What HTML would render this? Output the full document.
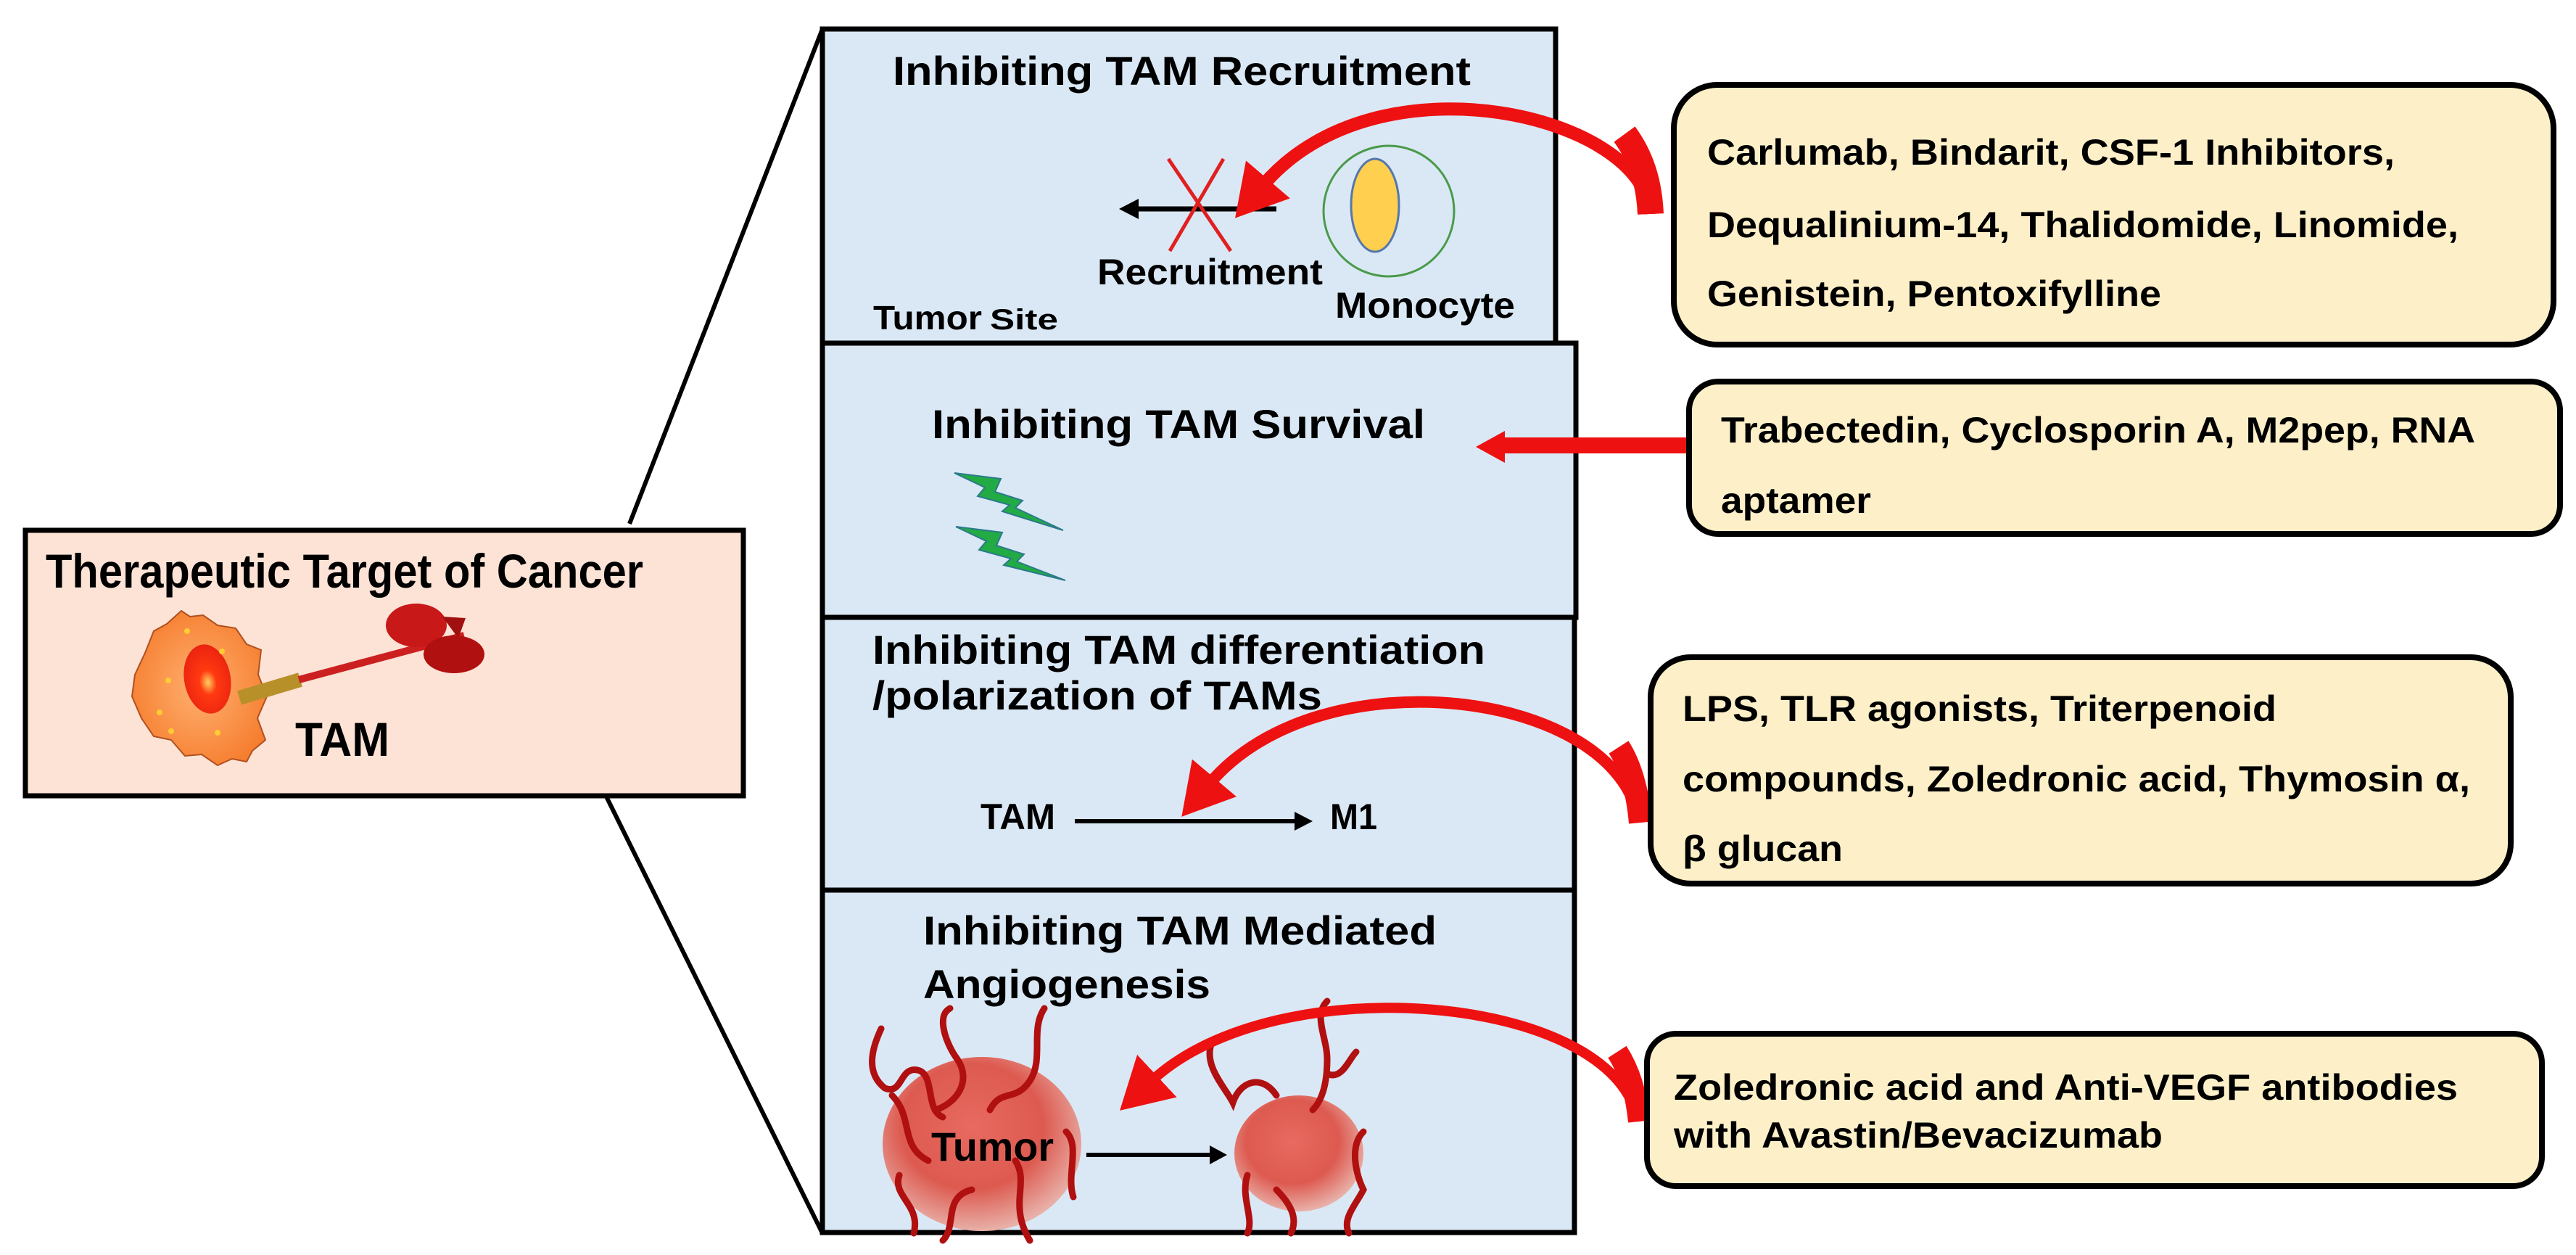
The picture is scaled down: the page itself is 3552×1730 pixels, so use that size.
<!DOCTYPE html>
<html><head><meta charset="utf-8"><style>
html,body{margin:0;padding:0;background:#fff;width:3552px;height:1730px;overflow:hidden}
svg{display:block}
.t{font-family:"Liberation Sans Narrow","Liberation Sans",sans-serif;font-weight:bold;fill:#000}
.r{font-family:"Liberation Sans Narrow","Liberation Sans",sans-serif;font-weight:bold;fill:#000;font-size:50px}
</style></head><body>
<svg width="3552" height="1730" viewBox="0 0 3552 1730" xmlns="http://www.w3.org/2000/svg">
<defs>
<radialGradient id="cell" cx="0.5" cy="0.5" r="0.6"><stop offset="0" stop-color="#ffb070"/><stop offset="1" stop-color="#f57a2a"/></radialGradient>
<radialGradient id="nuc" cx="0.5" cy="0.55" r="0.6"><stop offset="0" stop-color="#ffd060"/><stop offset="0.3" stop-color="#ff3a10"/><stop offset="1" stop-color="#e82010"/></radialGradient>
<radialGradient id="tum" cx="0.45" cy="0.4" r="0.6"><stop offset="0" stop-color="#e86a60"/><stop offset="0.6" stop-color="#dd5a50"/><stop offset="1" stop-color="#e8b0a8"/></radialGradient>
<marker id="ah" markerUnits="userSpaceOnUse" markerWidth="90" markerHeight="90" refX="10" refY="40" orient="auto">
<path d="M0,0 L70,40 L0,80 Z" fill="#ee1111"/></marker>
</defs>

<line x1="868" y1="722" x2="1134" y2="40" stroke="#000" stroke-width="6"/>
<line x1="836" y1="1098" x2="1134" y2="1700" stroke="#000" stroke-width="6"/>

<rect x="35" y="731" width="990" height="366" fill="#fde3d6" stroke="#000" stroke-width="7"/>
<text class="t" x="63" y="810" font-size="66" textLength="824" lengthAdjust="spacingAndGlyphs">Therapeutic Target of Cancer</text>
<path d="M250,842 L262,850 L280,848 L300,862 L325,866 L340,888 L360,896 L356,930 L368,960 L355,990 L366,1020 L348,1035 L340,1050 L320,1046 L300,1055 L278,1040 L255,1042 L236,1020 L212,1015 L195,990 L182,960 L186,930 L200,900 L212,870 L230,860 Z" fill="url(#cell)" stroke="#b05020" stroke-width="2"/>
<ellipse cx="286" cy="936" rx="32" ry="48" transform="rotate(-10 286 936)" fill="url(#nuc)"/>
<circle cx="258" cy="870" r="4" fill="#ffcc33"/><circle cx="306" cy="898" r="4" fill="#ffcc33"/><circle cx="232" cy="938" r="4" fill="#ffcc33"/><circle cx="220" cy="982" r="4" fill="#ffcc33"/><circle cx="236" cy="1008" r="4" fill="#ffcc33"/><circle cx="300" cy="1010" r="4" fill="#ffcc33"/>
<line x1="330" y1="962" x2="414" y2="937" stroke="#b8902a" stroke-width="20"/>
<line x1="412" y1="937" x2="640" y2="876" stroke="#cc2020" stroke-width="10"/>
<ellipse cx="574" cy="862" rx="42" ry="30" fill="#c81818"/>
<path d="M610,850 L642,852 L632,880 Z" fill="#a01010"/>
<ellipse cx="626" cy="902" rx="42" ry="26" fill="#b01010"/>
<text class="t" x="407" y="1042" font-size="66" textLength="130" lengthAdjust="spacingAndGlyphs">TAM</text>

<rect x="1134" y="40" width="1011" height="433" fill="#dae8f5" stroke="#000" stroke-width="7"/>
<rect x="1134" y="473" width="1039" height="378" fill="#dae8f5" stroke="#000" stroke-width="7"/>
<rect x="1134" y="851" width="1037" height="376" fill="#dae8f5" stroke="#000" stroke-width="7"/>
<rect x="1134" y="1227" width="1037" height="472" fill="#dae8f5" stroke="#000" stroke-width="7"/>

<text class="t" x="1231" y="117" font-size="56" textLength="797" lengthAdjust="spacingAndGlyphs">Inhibiting  TAM Recruitment</text>
<line x1="1760" y1="288" x2="1565" y2="288" stroke="#000" stroke-width="7"/>
<path d="M1543,288 L1570,274 L1570,302 Z" fill="#000"/>
<line x1="1611" y1="219" x2="1697" y2="346" stroke="#e02020" stroke-width="5"/>
<line x1="1687" y1="219" x2="1613" y2="346" stroke="#e02020" stroke-width="5"/>
<ellipse cx="1915" cy="291" rx="90" ry="90" fill="none" stroke="#4a9a4a" stroke-width="3"/>
<ellipse cx="1896" cy="283" rx="33" ry="64" fill="#ffd050" stroke="#5577aa" stroke-width="3"/>
<text class="t" x="1513" y="392" font-size="50" textLength="311" lengthAdjust="spacingAndGlyphs">Recruitment</text>
<text class="t" x="1841" y="438" font-size="50" textLength="248" lengthAdjust="spacingAndGlyphs">Monocyte</text>
<text class="t" x="1204" y="454" font-size="46" textLength="150" lengthAdjust="spacingAndGlyphs">Tumor</text>
<text class="t" x="1365" y="454" font-size="40" textLength="94" lengthAdjust="spacingAndGlyphs">Site</text>
<path d="M2275,295 C2270,160 1900,70 1742,255" fill="none" stroke="#ee1111" stroke-width="18" marker-end="url(#ah)"/>
<path d="M2276,295 C2274,250 2262,215 2240,185" fill="none" stroke="#ee1111" stroke-width="36"/>

<text class="t" x="1285" y="604" font-size="56" textLength="680" lengthAdjust="spacingAndGlyphs">Inhibiting  TAM Survival</text>
<path d="M1316,652 L1380,660 L1372,678 L1410,690 L1400,700 L1466,731 L1382,705 L1392,696 L1348,684 L1358,672 Z" fill="#22aa44" stroke="#2a7a8a" stroke-width="2"/>
<path d="M1318,726 L1382,734 L1374,752 L1412,764 L1402,774 L1469,800 L1384,779 L1394,770 L1350,758 L1360,746 Z" fill="#22aa44" stroke="#2a7a8a" stroke-width="2"/>
<line x1="2331" y1="614" x2="2070" y2="614" stroke="#ee1111" stroke-width="22"/>
<path d="M2035,616 L2075,594 L2075,638 Z" fill="#ee1111"/>

<text class="t" x="1203" y="915" font-size="56" textLength="845" lengthAdjust="spacingAndGlyphs">Inhibiting  TAM differentiation</text>
<text class="t" x="1203" y="978" font-size="56" textLength="620" lengthAdjust="spacingAndGlyphs">/polarization  of TAMs</text>
<text class="t" x="1352" y="1143" font-size="50" textLength="103" lengthAdjust="spacingAndGlyphs">TAM</text>
<line x1="1482" y1="1132" x2="1790" y2="1132" stroke="#000" stroke-width="6"/>
<path d="M1810,1132 L1785,1119 L1785,1145 Z" fill="#000"/>
<text class="t" x="1834" y="1143" font-size="50" textLength="65" lengthAdjust="spacingAndGlyphs">M1</text>
<path d="M2260,1132 C2230,950 1820,900 1668,1080" fill="none" stroke="#ee1111" stroke-width="16" marker-end="url(#ah)"/>
<path d="M2262,1134 C2258,1090 2248,1055 2232,1030" fill="none" stroke="#ee1111" stroke-width="32"/>

<text class="t" x="1273" y="1302" font-size="56" textLength="708" lengthAdjust="spacingAndGlyphs">Inhibiting  TAM Mediated</text>
<text class="t" x="1273" y="1376" font-size="56" textLength="396" lengthAdjust="spacingAndGlyphs">Angiogenesis</text>
<ellipse cx="1354" cy="1577" rx="137" ry="120" fill="url(#tum)"/>
<ellipse cx="1791" cy="1590" rx="89" ry="80" fill="url(#tum)"/>
<g fill="none" stroke="#b01010" stroke-width="9" stroke-linecap="round">
<path d="M1215,1418 C1200,1450 1195,1480 1220,1500 C1245,1510 1240,1470 1265,1475 C1290,1480 1275,1530 1300,1540"/>
<path d="M1310,1390 C1290,1400 1305,1440 1320,1460 C1340,1490 1320,1520 1290,1530"/>
<path d="M1440,1390 C1420,1420 1440,1460 1420,1490 C1400,1520 1380,1500 1365,1530"/>
<path d="M1240,1620 C1230,1650 1270,1660 1260,1700"/><path d="M1400,1600 C1420,1630 1390,1660 1420,1710"/>
<path d="M1340,1640 C1300,1650 1320,1690 1300,1710"/><path d="M1470,1560 C1490,1580 1470,1620 1480,1650"/>
<path d="M1230,1510 C1260,1540 1240,1580 1280,1600"/>
<path d="M1670,1440 C1660,1470 1690,1500 1700,1520 C1710,1490 1740,1480 1760,1510"/>
<path d="M1830,1380 C1810,1400 1830,1430 1830,1460 C1830,1500 1820,1520 1810,1530"/>
<path d="M1830,1480 C1850,1490 1860,1460 1870,1450"/>
<path d="M1880,1560 C1860,1580 1870,1620 1880,1640 C1870,1660 1850,1680 1860,1700"/>
<path d="M1720,1620 C1710,1650 1730,1680 1720,1700"/><path d="M1760,1640 C1780,1660 1790,1680 1780,1700"/>
</g>
<text class="t" x="1284" y="1600" font-size="56" textLength="169" lengthAdjust="spacingAndGlyphs">Tumor</text>
<line x1="1498" y1="1592" x2="1672" y2="1592" stroke="#000" stroke-width="6"/>
<path d="M1692,1592 L1668,1579 L1668,1605 Z" fill="#000"/>
<path d="M2258,1544 C2225,1370 1760,1330 1588,1490" fill="none" stroke="#ee1111" stroke-width="14" marker-end="url(#ah)"/>
<path d="M2260,1546 C2256,1505 2246,1475 2230,1450" fill="none" stroke="#ee1111" stroke-width="30"/>

<rect x="2308" y="117" width="1213" height="358" rx="60" fill="#fdf0c9" stroke="#000" stroke-width="8"/>
<text class="r" x="2354" y="227" textLength="948" lengthAdjust="spacingAndGlyphs">Carlumab, Bindarit, CSF-1 Inhibitors,</text>
<text class="r" x="2354" y="327" textLength="1036" lengthAdjust="spacingAndGlyphs">Dequalinium-14, Thalidomide, Linomide,</text>
<text class="r" x="2354" y="422" textLength="626" lengthAdjust="spacingAndGlyphs">Genistein, Pentoxifylline</text>

<rect x="2329" y="526" width="1201" height="210" rx="40" fill="#fdf0c9" stroke="#000" stroke-width="8"/>
<text class="r" x="2373" y="610" textLength="1040" lengthAdjust="spacingAndGlyphs">Trabectedin, Cyclosporin A, M2pep, RNA</text>
<text class="r" x="2373" y="707" textLength="207" lengthAdjust="spacingAndGlyphs">aptamer</text>

<rect x="2276" y="906" width="1186" height="312" rx="55" fill="#fdf0c9" stroke="#000" stroke-width="8"/>
<text class="r" x="2320" y="994" textLength="819" lengthAdjust="spacingAndGlyphs">LPS, TLR agonists, Triterpenoid</text>
<text class="r" x="2320" y="1091" textLength="1086" lengthAdjust="spacingAndGlyphs">compounds, Zoledronic acid, Thymosin α,</text>
<text class="r" x="2320" y="1187" textLength="221" lengthAdjust="spacingAndGlyphs">β glucan</text>

<rect x="2271" y="1425" width="1234" height="210" rx="40" fill="#fdf0c9" stroke="#000" stroke-width="8"/>
<text class="r" x="2308" y="1516" textLength="1081" lengthAdjust="spacingAndGlyphs">Zoledronic acid and Anti-VEGF antibodies</text>
<text class="r" x="2308" y="1582" textLength="674" lengthAdjust="spacingAndGlyphs">with Avastin/Bevacizumab</text>
</svg>
</body></html>
